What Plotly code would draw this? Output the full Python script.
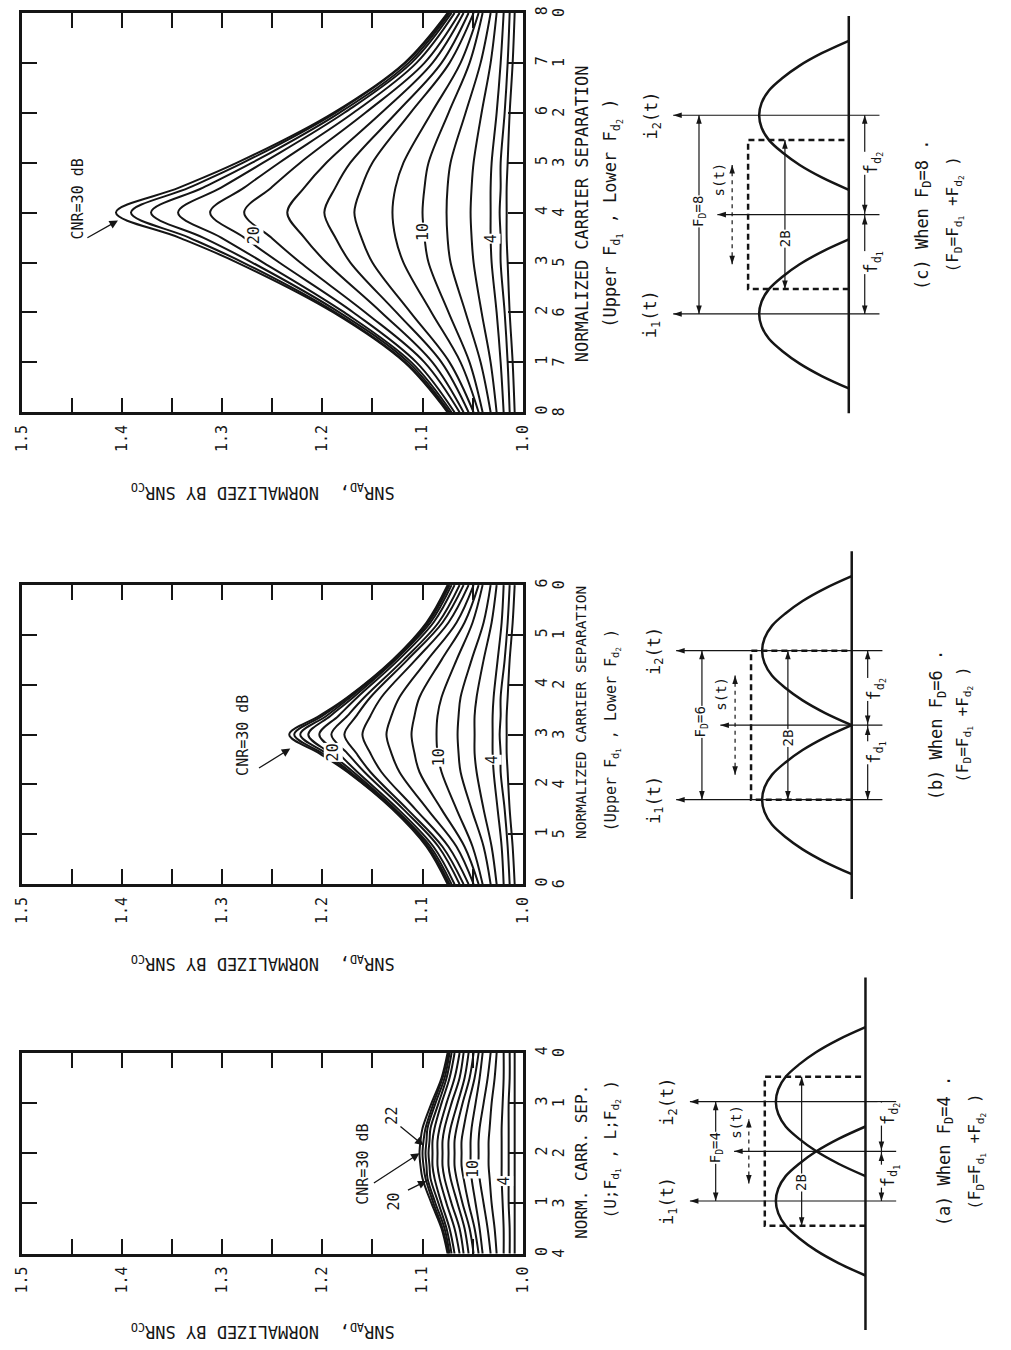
import plotly.graph_objects as go

W, H = 1011, 1350
FONT = "DejaVu Sans Mono"
INK = "#151515"

# ---------------------------------------------------------------- data
CNR_DB = [30, 28, 26, 24, 22, 20, 18, 16, 14, 12, 10, 8, 6, 4, 2, 0]

SNR_TICKS = [1.0, 1.05, 1.1, 1.15, 1.2, 1.25, 1.3, 1.35, 1.4, 1.45, 1.5]
SNR_TICK_TEXT = ["1.0", "", "1.1", "", "1.2", "", "1.3", "", "1.4", "", "1.5"]

# (c) F_D = 8
SEP_C = [0, 1, 2, 3, 3.5, 4, 4.5, 5, 6, 7, 8]
SNR_C = [
    [1.075, 1.118, 1.189, 1.285, 1.343, 1.406, 1.343, 1.285, 1.189, 1.118, 1.075],
    [1.074, 1.117, 1.187, 1.279, 1.333, 1.391, 1.333, 1.279, 1.187, 1.117, 1.074],
    [1.073, 1.114, 1.183, 1.270, 1.319, 1.371, 1.319, 1.270, 1.183, 1.114, 1.073],
    [1.071, 1.111, 1.178, 1.259, 1.301, 1.344, 1.301, 1.259, 1.178, 1.111, 1.071],
    [1.068, 1.106, 1.169, 1.243, 1.278, 1.312, 1.278, 1.243, 1.169, 1.106, 1.068],
    [1.063, 1.098, 1.157, 1.222, 1.251, 1.278, 1.251, 1.222, 1.157, 1.098, 1.063],
    [1.059, 1.090, 1.141, 1.196, 1.218, 1.235, 1.218, 1.196, 1.141, 1.090, 1.059],
    [1.054, 1.081, 1.126, 1.172, 1.187, 1.198, 1.187, 1.172, 1.126, 1.081, 1.054],
    [1.049, 1.073, 1.112, 1.150, 1.161, 1.168, 1.161, 1.150, 1.112, 1.073, 1.049],
    [1.044, 1.062, 1.091, 1.119, 1.127, 1.130, 1.127, 1.119, 1.091, 1.062, 1.044],
    [1.040, 1.053, 1.074, 1.094, 1.098, 1.100, 1.098, 1.094, 1.074, 1.053, 1.040],
    [1.032, 1.042, 1.057, 1.072, 1.075, 1.076, 1.075, 1.072, 1.057, 1.042, 1.032],
    [1.026, 1.032, 1.041, 1.049, 1.051, 1.052, 1.051, 1.049, 1.041, 1.032, 1.026],
    [1.019, 1.022, 1.026, 1.031, 1.032, 1.032, 1.032, 1.031, 1.026, 1.022, 1.019],
    [1.013, 1.015, 1.018, 1.022, 1.022, 1.023, 1.022, 1.022, 1.018, 1.015, 1.013],
    [1.008, 1.010, 1.013, 1.015, 1.016, 1.016, 1.016, 1.015, 1.013, 1.010, 1.008],
]

# (b) F_D = 6
SEP_B = [0, 0.75, 1.5, 2.25, 2.625, 3, 3.375, 3.75, 4.5, 5.25, 6]
SNR_B = [
    [1.075, 1.096, 1.130, 1.175, 1.203, 1.233, 1.203, 1.175, 1.130, 1.096, 1.075],
    [1.074, 1.095, 1.129, 1.174, 1.200, 1.228, 1.200, 1.174, 1.129, 1.095, 1.074],
    [1.073, 1.094, 1.128, 1.172, 1.196, 1.222, 1.196, 1.172, 1.128, 1.094, 1.073],
    [1.071, 1.092, 1.127, 1.169, 1.192, 1.214, 1.192, 1.169, 1.127, 1.092, 1.071],
    [1.068, 1.089, 1.124, 1.165, 1.184, 1.203, 1.184, 1.165, 1.124, 1.089, 1.068],
    [1.063, 1.084, 1.119, 1.158, 1.175, 1.191, 1.175, 1.158, 1.119, 1.084, 1.063],
    [1.059, 1.080, 1.115, 1.152, 1.166, 1.178, 1.166, 1.152, 1.115, 1.080, 1.059],
    [1.054, 1.074, 1.107, 1.141, 1.152, 1.160, 1.152, 1.141, 1.107, 1.074, 1.054],
    [1.049, 1.066, 1.095, 1.123, 1.131, 1.136, 1.131, 1.123, 1.095, 1.066, 1.049],
    [1.044, 1.058, 1.081, 1.103, 1.108, 1.111, 1.108, 1.103, 1.081, 1.058, 1.044],
    [1.040, 1.050, 1.066, 1.081, 1.085, 1.086, 1.085, 1.081, 1.066, 1.050, 1.040],
    [1.032, 1.039, 1.051, 1.062, 1.064, 1.065, 1.064, 1.062, 1.051, 1.039, 1.032],
    [1.026, 1.031, 1.039, 1.046, 1.048, 1.048, 1.048, 1.046, 1.039, 1.031, 1.026],
    [1.019, 1.021, 1.025, 1.029, 1.030, 1.030, 1.030, 1.029, 1.025, 1.021, 1.019],
    [1.013, 1.015, 1.018, 1.022, 1.022, 1.023, 1.022, 1.022, 1.018, 1.015, 1.013],
    [1.008, 1.010, 1.013, 1.015, 1.016, 1.016, 1.016, 1.015, 1.013, 1.010, 1.008],
]

# (a) F_D = 4
SEP_A = [0, 0.5, 1, 1.5, 1.75, 2, 2.25, 2.5, 3, 3.5, 4]
SNR_A = [
    [1.075, 1.081, 1.091, 1.100, 1.102, 1.103, 1.102, 1.100, 1.091, 1.081, 1.075],
    [1.074, 1.080, 1.089, 1.097, 1.099, 1.100, 1.099, 1.097, 1.089, 1.080, 1.074],
    [1.073, 1.078, 1.087, 1.095, 1.096, 1.097, 1.096, 1.095, 1.087, 1.078, 1.073],
    [1.071, 1.076, 1.084, 1.092, 1.093, 1.094, 1.093, 1.092, 1.084, 1.076, 1.071],
    [1.068, 1.073, 1.081, 1.088, 1.090, 1.090, 1.090, 1.088, 1.081, 1.073, 1.068],
    [1.063, 1.068, 1.076, 1.083, 1.085, 1.085, 1.085, 1.083, 1.076, 1.068, 1.063],
    [1.059, 1.063, 1.071, 1.078, 1.080, 1.080, 1.080, 1.078, 1.071, 1.063, 1.059],
    [1.054, 1.058, 1.065, 1.072, 1.074, 1.074, 1.074, 1.072, 1.065, 1.058, 1.054],
    [1.049, 1.053, 1.060, 1.066, 1.068, 1.068, 1.068, 1.066, 1.060, 1.053, 1.049],
    [1.044, 1.048, 1.054, 1.059, 1.061, 1.061, 1.061, 1.059, 1.054, 1.048, 1.044],
    [1.040, 1.043, 1.047, 1.051, 1.052, 1.052, 1.052, 1.051, 1.047, 1.043, 1.040],
    [1.032, 1.035, 1.039, 1.043, 1.044, 1.044, 1.044, 1.043, 1.039, 1.035, 1.032],
    [1.026, 1.028, 1.031, 1.033, 1.034, 1.034, 1.034, 1.033, 1.031, 1.028, 1.026],
    [1.019, 1.019, 1.020, 1.021, 1.021, 1.021, 1.021, 1.021, 1.020, 1.019, 1.019],
    [1.013, 1.013, 1.014, 1.014, 1.014, 1.014, 1.014, 1.014, 1.014, 1.013, 1.013],
    [1.008, 1.008, 1.008, 1.008, 1.008, 1.008, 1.008, 1.008, 1.008, 1.008, 1.008],
]

# spectrum sketch: one carrier's hump, offset from carrier vs height
HUMP_OFFSET = [-3, -2.5, -2, -1.5, -1, -0.5, 0, 0.5, 1, 1.5, 2, 2.5, 3]
HUMP_HEIGHT = [0, 1.1, 2.0, 2.7, 3.25, 3.55, 3.65, 3.55, 3.25, 2.7, 2.0, 1.1, 0]
HALF_BAND = 3      # B
BOX_TOP = 4.1      # height of the dashed 2B window

# ---------------------------------------------------------------- layout
PANELS = [
    dict(tag="c", fd=8, top=6, bottom=408, sep=SEP_C, snr=SNR_C,
         title="NORMALIZED CARRIER SEPARATION", title_y=208, title_size=17,
         sub="(Upper F<sub>d<sub>1</sub></sub> , Lower F<sub>d<sub>2</sub></sub> )",
         sub_y=208, sub_size=17, ytitle_y=487),
    dict(tag="b", fd=6, top=582, bottom=883, sep=SEP_B, snr=SNR_B,
         title="NORMALIZED CARRIER SEPARATION", title_y=710, title_size=14.5,
         sub="(Upper F<sub>d<sub>1</sub></sub> , Lower F<sub>d<sub>2</sub></sub> )",
         sub_y=728, sub_size=15, ytitle_y=962),
    dict(tag="a", fd=4, top=1053, bottom=1255, sep=SEP_A, snr=SNR_A,
         title="NORM. CARR. SEP.", title_y=1163, title_size=16,
         sub="(U;F<sub>d<sub>1</sub></sub> , L;F<sub>d<sub>2</sub></sub> )",
         sub_y=1150, sub_size=16, ytitle_y=1333),
]
LEFT, RIGHT = 13, 523

fig = go.Figure()
annotations = []


def ax_names(i):
    sfx = "" if i == 1 else str(i)
    return "x" + sfx, "y" + sfx, "xaxis" + sfx, "yaxis" + sfx


def txt(x, y, text, size, xref="paper", yref="paper", angle=-90, bg=None, **kw):
    a = dict(x=x, y=y, xref=xref, yref=yref, text=text, showarrow=False,
             textangle=angle, xanchor="center", yanchor="middle",
             font=dict(family=FONT, size=size, color=INK), **kw)
    if bg:
        a.update(bgcolor=bg, borderpad=0)
    annotations.append(a)


for i, p in enumerate(PANELS, start=1):
    xa, ya, xk, yk = ax_names(i)
    for vals in p["snr"]:
        fig.add_trace(go.Scatter(
            x=vals, y=p["sep"], xaxis=xa, yaxis=ya, mode="lines",
            line=dict(color=INK, width=2, shape="spline", smoothing=1.0),
            hoverinfo="skip", showlegend=False))
    fd = p["fd"]
    fig.update_layout({
        xk: dict(domain=[LEFT / W, RIGHT / W], range=[1.5, 1.0], anchor=ya,
                 tickvals=SNR_TICKS, ticktext=SNR_TICK_TEXT, ticks="inside",
                 ticklen=15, tickwidth=1.5, tickcolor=INK, showline=True,
                 linewidth=2.5, linecolor=INK, mirror="allticks", tickangle=-90,
                 tickfont=dict(family=FONT, size=15, color=INK),
                 showgrid=False, zeroline=False, ticklabelstandoff=4),
        yk: dict(domain=[1 - p["bottom"] / H, 1 - p["top"] / H], range=[0, fd],
                 anchor=xa, side="right", tickvals=list(range(fd + 1)),
                 ticks="inside", ticklen=15, tickwidth=1.5, tickcolor=INK,
                 showline=True, linewidth=2.5, linecolor=INK, mirror="allticks",
                 tickangle=-90, tickfont=dict(family=FONT, size=15, color=INK),
                 showgrid=False, zeroline=False, ticklabelstandoff=4),
    })
    # second tick column: lower-carrier separation
    for s in range(fd + 1):
        txt(560 / W, s, str(fd - s), 15, yref=ya)
    txt(583 / W, 1 - p["title_y"] / H, p["title"], p["title_size"])
    txt(614 / W, 1 - p["sub_y"] / H, p["sub"], p["sub_size"])
    txt(258 / W, 1 - p["ytitle_y"] / H,
        "SNR<sub>AD</sub>,  NORMALIZED BY SNR<sub>CO</sub>", 17, angle=180)


def arrow(xa, ya, head, tail):
    annotations.append(dict(
        x=head[0], y=head[1], ax=tail[0], ay=tail[1], xref=xa, yref=ya,
        axref=xa, ayref=ya, text="", showarrow=True, arrowhead=2,
        arrowsize=1.3, arrowwidth=1.3, arrowcolor=INK))


# panel (c) labels
txt(1.444, 4.28, "CNR=30 dB", 15, xref="x", yref="y")
arrow("x", "y", (1.404, 3.84), (1.436, 3.48))
txt(1.2686, 3.54, "20", 15, xref="x", yref="y", bg="white")
txt(1.100, 3.60, "10", 15, xref="x", yref="y", bg="white")
txt(1.032, 3.48, "4", 15, xref="x", yref="y", bg="white")
# panel (b)
txt(1.2794, 2.99, "CNR=30 dB", 15, xref="x2", yref="y2")
arrow("x2", "y2", (1.232, 2.72), (1.2647, 2.31))
txt(1.189, 2.65, "20", 15, xref="x2", yref="y2", bg="white")
txt(1.0833, 2.55, "10", 15, xref="x2", yref="y2", bg="white")
txt(1.0304, 2.49, "4", 15, xref="x2", yref="y2", bg="white")
# panel (a)
txt(1.159, 1.78, "CNR=30 dB", 15, xref="x3", yref="y3")
arrow("x3", "y3", (1.103, 2.0), (1.150, 1.39))
txt(1.130, 2.76, "22", 15, xref="x3", yref="y3")
arrow("x3", "y3", (1.099, 2.16), (1.1235, 2.56))
txt(1.128, 1.05, "20", 15, xref="x3", yref="y3")
arrow("x3", "y3", (1.096, 1.45), (1.116, 1.25))
txt(1.049, 1.68, "10", 15, xref="x3", yref="y3", bg="white")
txt(1.019, 1.45, "4", 15, xref="x3", yref="y3", bg="white")

# ---------------------------------------------------------------- sketches
UNIT = 25.0
DIAGRAMS = [
    dict(tag="c", fd=8, cy=209, base=855, half=205, ext=(-8.0, 8.0), s_half=2.0,
         s_lab=1.4, b_lab=-0.95, fd_lab=(-1.92, 2.08), cap_x=(931, 963)),
    dict(tag="b", fd=6, cy=723, base=858, half=205, ext=(-7.0, 7.0), s_half=2.0,
         s_lab=1.25, b_lab=-0.5, fd_lab=(-1.1, 1.45), cap_x=(945, 972)),
    dict(tag="a", fd=4, cy=1152, base=872, half=195, ext=(-7.2, 7.0), s_half=1.3,
         s_lab=1.2, b_lab=-1.25, fd_lab=(-1.0, 1.5), cap_x=(953, 985)),
]
X0, X1 = 640, 1005


def seg(xa, ya, xs, ys, width=1.2, dash="solid", shape="linear"):
    fig.add_trace(go.Scatter(
        x=xs, y=ys, xaxis=xa, yaxis=ya, mode="lines",
        line=dict(color=INK, width=width, dash=dash, shape=shape),
        hoverinfo="skip", showlegend=False))


def heads(xa, ya, xs, ys, angles):
    fig.add_trace(go.Scatter(
        x=xs, y=ys, xaxis=xa, yaxis=ya, mode="markers",
        marker=dict(symbol="arrow", angle=angles, size=9, color=INK,
                    line=dict(width=0)),
        hoverinfo="skip", showlegend=False))


for j, d in enumerate(DIAGRAMS, start=4):
    xa, ya, xk, yk = ax_names(j)
    base, cy, half = d["base"], d["cy"], d["half"]
    span = half / UNIT
    fig.update_layout({
        xk: dict(domain=[X0 / W, X1 / W], range=[(base - X0) / UNIT, (base - X1) / UNIT],
                 anchor=ya, visible=False),
        yk: dict(domain=[1 - (cy + half) / H, 1 - (cy - half) / H], range=[-span, span],
                 anchor=xa, visible=False),
    })
    fc = d["fd"] / 2
    # frequency axis
    seg(xa, ya, [0, 0], list(d["ext"]), width=2.5)
    # the two spectra
    for c in (-fc, fc):
        seg(xa, ya, HUMP_HEIGHT, [c + o for o in HUMP_OFFSET], width=2.5, shape="spline")
    # 2B window
    seg(xa, ya, [0, BOX_TOP, BOX_TOP, 0], [-HALF_BAND, -HALF_BAND, HALF_BAND, HALF_BAND],
        width=2.5, dash="6px,4px")
    # carrier and centre lines
    for c in (-fc, fc):
        seg(xa, ya, [-1.25, 7.15], [c, c])
    seg(xa, ya, [-1.25, 5.35], [0, 0])
    heads(xa, ya, [7.15, 7.15, 5.35], [-fc, fc, 0], [270, 270, 270])
    # F_D span
    seg(xa, ya, [6.1, 6.1], [-fc, fc])
    heads(xa, ya, [6.1, 6.1], [fc, -fc], [0, 180])
    txt(6.1, 0.15, "F<sub>D</sub>=%d" % d["fd"], 14, xref=xa, yref=ya, bg="white")
    # s(t) swing
    sh = d["s_half"]
    seg(xa, ya, [4.75, 4.75], [-sh, sh], dash="4px,4px")
    heads(xa, ya, [4.75, 4.75], [sh, -sh], [0, 180])
    txt(5.3, d["s_lab"], "s(t)", 14, xref=xa, yref=ya)
    # 2B span
    seg(xa, ya, [2.6, 2.6], [-HALF_BAND, HALF_BAND])
    heads(xa, ya, [2.6, 2.6], [HALF_BAND, -HALF_BAND], [0, 180])
    txt(2.6, d["b_lab"], "2B", 14, xref=xa, yref=ya, bg="white")
    # f_d1, f_d2 spans
    seg(xa, ya, [-0.65, -0.65], [-fc, fc])
    heads(xa, ya, [-0.65] * 4, [fc, 0.05, -0.05, -fc], [0, 180, 0, 180])
    txt(-1.0, d["fd_lab"][0], "f<sub>d<sub>1</sub></sub>", 17, xref=xa, yref=ya, bg="white")
    txt(-1.0, d["fd_lab"][1], "f<sub>d<sub>2</sub></sub>", 17, xref=xa, yref=ya, bg="white")
    # carrier names
    txt(8.0, -fc, "i<sub>1</sub>(t)", 17, xref=xa, yref=ya)
    txt(8.0, fc, "i<sub>2</sub>(t)", 17, xref=xa, yref=ya)
    # caption
    txt(d["cap_x"][0] / W, 0, "(%s) When F<sub>D</sub>=%d ." % (d["tag"], d["fd"]), 17,
        yref=ya)
    txt(d["cap_x"][1] / W, 0,
        "(F<sub>D</sub>=F<sub>d<sub>1</sub></sub> +F<sub>d<sub>2</sub></sub> )", 16, yref=ya)

fig.update_layout(
    width=W, height=H, margin=dict(l=0, r=0, t=0, b=0),
    paper_bgcolor="white", plot_bgcolor="white", showlegend=False,
    annotations=annotations,
    font=dict(family=FONT, color=INK),
)

fig.write_html("out.html", config={"displayModeBar": False},
               post_script="document.body.style.margin='0';")
